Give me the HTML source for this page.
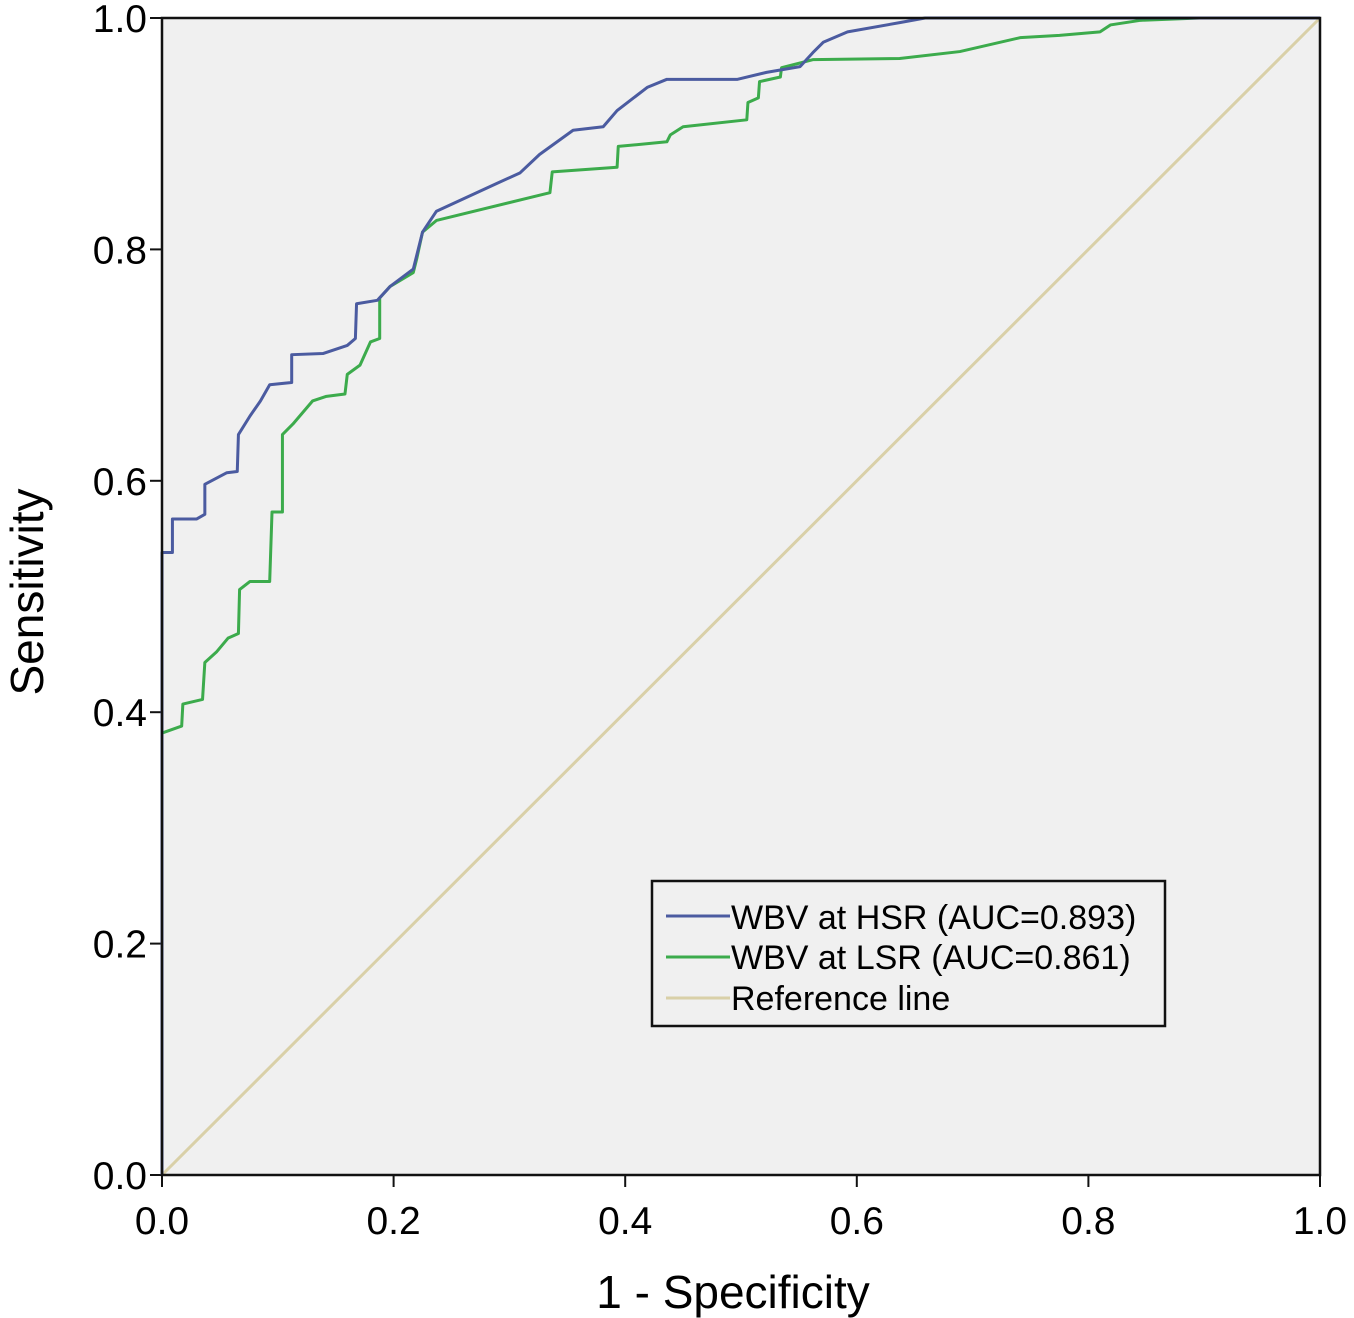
<!DOCTYPE html>
<html><head><meta charset="utf-8"><style>
body{margin:0;background:#fff;}
svg{display:block;font-family:"Liberation Sans",Arial,sans-serif;}
</style></head><body>
<svg id="chart" width="1354" height="1318" viewBox="0 0 1354 1318">
<rect x="162" y="18" width="1158" height="1157" fill="#f0f0f0"/>
<g id="ticks"></g>
<g id="series"></g>
<rect x="162" y="18" width="1158" height="1157" fill="none" stroke="#111" stroke-width="2.5"/>
<text x="733" y="1308" font-size="46" text-anchor="middle">1 - Specificity</text>
<text transform="translate(43,592) rotate(-90)" font-size="46" text-anchor="middle">Sensitivity</text>
<g>
<rect x="652" y="881" width="513" height="145" fill="#f0f0f0" stroke="#111" stroke-width="2.5"/>
<line x1="666" y1="916" x2="730" y2="916" stroke="#4b5ba0" stroke-width="3"/>
<text x="731" y="929" font-size="34">WBV at HSR (AUC=0.893)</text>
<line x1="666" y1="957" x2="730" y2="957" stroke="#3cab4c" stroke-width="3"/>
<text x="731" y="969" font-size="34">WBV at LSR (AUC=0.861)</text>
<line x1="666" y1="998" x2="730" y2="998" stroke="#d9d0a8" stroke-width="3"/>
<text x="731" y="1010" font-size="34">Reference line</text>
</g>
</svg>
<script>
const xTicks=[0,0.2,0.4,0.6,0.8,1.0];
const yTicks=[0,0.2,0.4,0.6,0.8,1.0];
const hsrFpr=[0,0,.009,.009,.030,.037,.037,.056,.065,.066,.076,.085,.093,.112,.112,.139,.160,.167,.168,.186,.197,.217,.225,.237,.289,.309,.326,.355,.381,.393,.419,.436,.497,.522,.551,.562,.571,.592,.637,.659,1];
const hsrTpr=[0,.538,.538,.567,.567,.571,.597,.607,.608,.640,.656,.669,.683,.685,.709,.710,.717,.723,.753,.756,.768,.783,.815,.833,.857,.866,.882,.903,.906,.920,.940,.947,.947,.953,.958,.970,.979,.988,.996,1,1];
const lsrFpr=[0,0,.017,.018,.035,.037,.047,.057,.066,.067,.076,.093,.095,.104,.104,.113,.130,.142,.158,.160,.171,.180,.188,.188,.197,.217,.220,.225,.237,.335,.337,.393,.394,.436,.439,.450,.505,.506,.515,.516,.534,.535,.562,.637,.689,.741,.775,.810,.819,.845,.896,1];
const lsrTpr=[0,.382,.388,.407,.411,.443,.452,.464,.468,.506,.513,.513,.573,.573,.640,.649,.669,.673,.675,.692,.700,.720,.723,.758,.768,.780,.792,.815,.825,.849,.867,.871,.889,.893,.899,.906,.912,.927,.931,.945,.949,.957,.964,.965,.971,.983,.985,.988,.994,.998,1,1];
const refFpr=[0,1];
const refTpr=[0,1];
const X=v=>162+v*1158, Y=v=>1175-v*1157;
const NS="http://www.w3.org/2000/svg";
const tg=document.getElementById('ticks'), sg=document.getElementById('series');
xTicks.forEach(t=>{
 const l=document.createElementNS(NS,'line');
 l.setAttribute('x1',X(t));l.setAttribute('x2',X(t));l.setAttribute('y1',1175);l.setAttribute('y2',1187);
 l.setAttribute('stroke','#111');l.setAttribute('stroke-width','2');
 
 
 tg.appendChild(l);
 const tx=document.createElementNS(NS,'text');
 tx.setAttribute('x',X(t));tx.setAttribute('y',1234);tx.setAttribute('font-size','39');tx.setAttribute('text-anchor','middle');
 tx.textContent=t.toFixed(1);
 
 
 tg.appendChild(tx);
});
yTicks.forEach(t=>{
 const l=document.createElementNS(NS,'line');
 l.setAttribute('x1',150);l.setAttribute('x2',162);l.setAttribute('y1',Y(t));l.setAttribute('y2',Y(t));
 l.setAttribute('stroke','#111');l.setAttribute('stroke-width','2');
 
 
 tg.appendChild(l);
 const tx=document.createElementNS(NS,'text');
 tx.setAttribute('x',147);tx.setAttribute('y',Y(t)+14);tx.setAttribute('font-size','39');tx.setAttribute('text-anchor','end');
 tx.textContent=t.toFixed(1);
 
 
 tg.appendChild(tx);
});
function line(xs,ys,color,name){
 const p=document.createElementNS(NS,'polyline');
 p.setAttribute('points',xs.map((v,i)=>X(v)+','+Y(ys[i])).join(' '));
 p.setAttribute('fill','none');p.setAttribute('stroke',color);p.setAttribute('stroke-width','3');
 p.setAttribute('stroke-linejoin','round');
 
 
 sg.appendChild(p);
}
line(refFpr,refTpr,'#d9d0a8','reference-line');
line(lsrFpr,lsrTpr,'#3cab4c','lsr-roc-curve');
line(hsrFpr,hsrTpr,'#4b5ba0','hsr-roc-curve');
</script>
</body></html>
